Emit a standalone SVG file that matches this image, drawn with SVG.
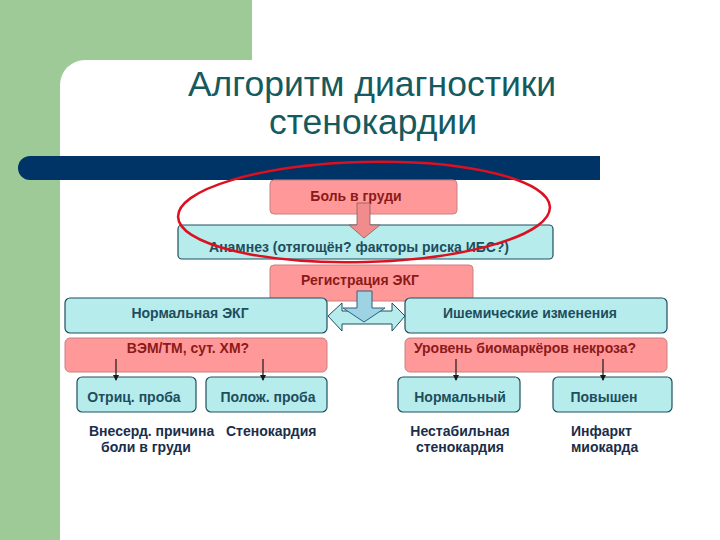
<svg xmlns="http://www.w3.org/2000/svg" width="720" height="540" viewBox="0 0 720 540">
<defs>
<style>
.pink{fill:#FF9999;stroke:#C98080;stroke-width:1}
.cyan{fill:#B6ECEC;stroke:#1F4F5F;stroke-width:1.2}
.tp{font-family:"Liberation Sans",Arial,sans-serif;font-weight:bold;font-size:14px;fill:#8B1A1A;text-anchor:middle}
.tc{font-family:"Liberation Sans",Arial,sans-serif;font-weight:bold;font-size:14px;fill:#1E4E5E;text-anchor:middle}
.tb{font-family:"Liberation Sans",Arial,sans-serif;font-weight:bold;font-size:14px;fill:#1A2E4A}
.title{font-family:"Liberation Sans",Arial,sans-serif;font-size:35.5px;fill:#145A5E;text-anchor:middle}
.sm{stroke:#1A1A1A;stroke-width:1.2;fill:none}
</style>
<marker id="ah" markerWidth="6" markerHeight="6" refX="5" refY="3" orient="auto" markerUnits="userSpaceOnUse"><path d="M0,0 L6,3 L0,6 z" fill="#1A1A1A"/></marker>
</defs>
<rect x="0" y="0" width="720" height="540" fill="#9ECA98"/>
<rect x="252" y="0" width="468" height="60" fill="#FFFFFF"/>
<path d="M85,60 H720 V540 H60 V85 A25,25 0 0 1 85,60 z" fill="#FFFFFF"/>
<path d="M30,156 H600 V180 H30 A12,12 0 0 1 30,156 z" fill="#003366"/>
<text class="title" x="372" y="96">Алгоритм диагностики</text>
<text class="title" x="373" y="134">стенокардии</text>

<g id="node-bol"><rect class="pink" x="270" y="180" width="187" height="34" rx="4"/><text class="tp" x="356" y="201">Боль в груди</text></g>
<g id="node-anamnez"><rect class="cyan" x="178" y="225" width="375" height="34" rx="4"/><text class="tc" x="359" y="252">Анамнез (отягощён? факторы риска ИБС?)</text></g>
<g id="node-ekg"><rect class="pink" x="270" y="265" width="203" height="36" rx="4"/><text class="tp" x="360" y="285">Регистрация ЭКГ</text></g>
<g id="node-norm-ekg"><rect class="cyan" x="65" y="298" width="262" height="35" rx="5"/><text class="tc" x="190" y="318">Нормальная ЭКГ</text></g>
<g id="node-ischem"><rect class="cyan" x="405" y="298" width="262" height="35" rx="5"/><text class="tc" x="530" y="318">Ишемические изменения</text></g>
<g id="node-vem"><rect class="pink" x="65" y="338" width="262" height="34" rx="5"/><text class="tp" x="188" y="353">ВЭМ/ТМ, сут. ХМ?</text></g>
<g id="node-bio"><rect class="pink" x="405" y="338" width="262" height="34" rx="5"/><text class="tp" x="525" y="353">Уровень биомаркёров некроза?</text></g>
<g id="node-neg"><rect class="cyan" x="77" y="377" width="119" height="35" rx="5"/><text class="tc" x="134" y="402">Отриц. проба</text></g>
<g id="node-pos"><rect class="cyan" x="206" y="377" width="121" height="35" rx="5"/><text class="tc" x="268" y="402">Полож. проба</text></g>
<g id="node-normal"><rect class="cyan" x="398" y="377" width="122" height="35" rx="5"/><text class="tc" x="460" y="402">Нормальный</text></g>
<g id="node-high"><rect class="cyan" x="553" y="377" width="119" height="35" rx="5"/><text class="tc" x="604" y="402">Повышен</text></g>
<g id="node-extracard"><text class="tb" x="89" y="436">Внесерд. причина</text><text class="tb" x="101" y="452">боли в груди</text></g>
<g id="node-stenocard"><text class="tb" x="226" y="436">Стенокардия</text></g>
<g id="node-unstable"><text class="tb" x="460" y="436" text-anchor="middle">Нестабильная</text><text class="tb" x="460" y="452" text-anchor="middle">стенокардия</text></g>
<g id="node-mi"><text class="tb" x="571" y="436">Инфаркт</text><text class="tb" x="571" y="452">миокарда</text></g>

<g id="connectors">
<path d="M357,203 H370 V225 H380 L364,238 L349,225 H357 z" fill="#F28C8C" stroke="#8B5A5A" stroke-width="0.8"/>
<path d="M328,316 L342,303 V311 H392 V303 L405,316 L392,331 V324 H342 V331 z" fill="#B6ECEC" stroke="#1F4F5F" stroke-width="1"/>
<path d="M357,291 H372 V308 H385 L364,322 L343,308 H357 z" fill="#9ED3E3" stroke="#2F5F7F" stroke-width="1"/>
<line class="sm" x1="116" y1="359" x2="116" y2="380" marker-end="url(#ah)"/>
<line class="sm" x1="263" y1="359" x2="263" y2="380" marker-end="url(#ah)"/>
<line class="sm" x1="456" y1="359" x2="456" y2="380" marker-end="url(#ah)"/>
<line class="sm" x1="603" y1="359" x2="603" y2="380" marker-end="url(#ah)"/>
<ellipse cx="364" cy="212" rx="186" ry="50" transform="rotate(-1.5 364 212)" fill="none" stroke="#DD1020" stroke-width="2.5"/>
</g>
</svg>
